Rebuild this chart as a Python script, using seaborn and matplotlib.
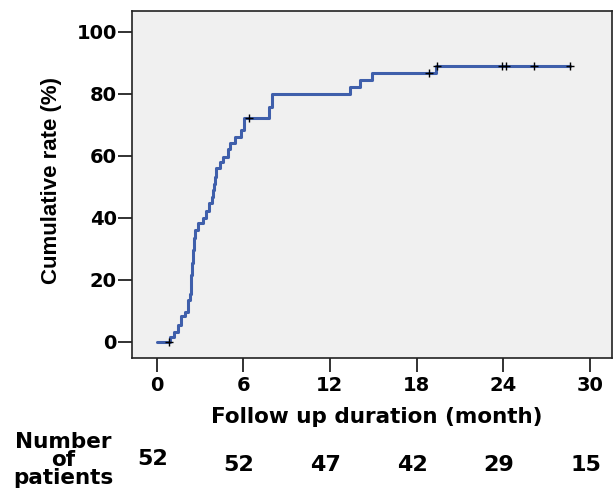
import numpy as np
import pandas as pd
import matplotlib
matplotlib.use("Agg")
import matplotlib.pyplot as plt
import matplotlib.transforms as mtransforms
import seaborn as sns

# step curve (time in months, cumulative rate in %)
event_time = [0, 0.95, 1.2, 1.45, 1.7, 1.95, 2.15, 2.32, 2.35, 2.38, 2.41, 2.44, 2.47, 2.50,
              2.53, 2.56, 2.59, 2.63, 2.87, 3.2, 3.45, 3.6, 3.85, 3.92, 4.0, 4.05, 4.14, 4.4,
              4.6, 4.95, 5.1, 5.42, 5.88, 6.05, 7.75, 7.96, 13.4, 14.1, 14.9, 19.35, 28.6]
cum_rate = [0, 1.6, 3.2, 5.4, 8.1, 9.7, 13.5, 15.5, 17.5, 19.5, 21.5, 23.5, 25.5, 27.5,
            29.5, 31.5, 33.5, 36.0, 38.2, 40.0, 42.0, 44.6, 46.6, 48.8, 51.0, 53.2, 56.0, 57.8,
            59.7, 62.0, 64.0, 66.1, 68.3, 72.1, 75.8, 80.0, 82.3, 84.5, 86.6, 88.8, 88.8]

# censored observations
censor_time = [0.85, 6.4, 18.85, 19.45, 23.9, 24.2, 26.1, 28.6]
censor_rate = [0, 72.1, 86.6, 88.8, 88.8, 88.8, 88.8, 88.8]

# number of patients table
risk_time = [0, 6, 12, 18, 24, 30]
risk_count = [52, 52, 47, 42, 29, 15]

curve = pd.DataFrame({"time": event_time, "rate": cum_rate})
cens = pd.DataFrame({"time": censor_time, "rate": censor_rate})

sns.set_style("white")
plt.rcParams["font.family"] = ["DejaVu Sans"]
plt.rcParams["text.color"] = "black"
plt.rcParams["xtick.color"] = "black"
plt.rcParams["ytick.color"] = "black"
plt.rcParams["axes.labelcolor"] = "black"

fig = plt.figure(figsize=(6.14, 4.9), dpi=100)
ax = fig.add_axes([0.215, 0.2694, 0.781, 0.7082])
ax.set_facecolor("#f0f0f0")

sns.lineplot(data=curve, x="time", y="rate", drawstyle="steps-post", estimator=None,
             sort=False, color="#3f5fab", linewidth=2.2, ax=ax)
sns.scatterplot(data=cens, x="time", y="rate", marker="+", color="black", s=30,
                linewidth=1.0, zorder=5, ax=ax)

ax.set_xlim(-1.7, 31.5)
ax.set_ylim(-5.3, 106.7)
ax.set_xticks([0, 6, 12, 18, 24, 30])
ax.set_yticks([0, 20, 40, 60, 80, 100])
ax.tick_params(axis="both", direction="out", length=10, width=1.3, color="#222222",
               labelsize=14, bottom=True, left=True)
ax.tick_params(axis="y", pad=1)
ax.tick_params(axis="x", pad=3)
for lab in ax.get_xticklabels() + ax.get_yticklabels():
    lab.set_fontweight("bold")

for s in ax.spines.values():
    s.set_color("#222222")
    s.set_linewidth(1.2)

ax.set_xlabel("Follow up duration (month)", fontsize=15.5, fontweight="bold")
ax.xaxis.set_label_coords(0.51, -0.14)
ax.set_ylabel("")
fig.text(52 / 614, 1 - 181 / 490, "Cumulative rate (%)", rotation=90, ha="center",
         va="center", fontsize=16, fontweight="bold",
         family=["Liberation Sans Narrow", "Liberation Sans"])

# patients table below the axis
trans = mtransforms.blended_transform_factory(ax.transData, fig.transFigure)
for i, (t, n) in enumerate(zip(risk_time, risk_count)):
    ax.text(t - 0.3, 0.064 if i == 0 else 0.052, str(n), transform=trans, ha="center",
            va="center", fontsize=16, fontweight="bold", clip_on=False)
fig.text(63 / 614, 1 - 460 / 490, "Number\nof\npatients", ha="center", va="center",
         fontsize=15.5, fontweight="bold", linespacing=0.9)

fig.savefig("out.png", dpi=100)
